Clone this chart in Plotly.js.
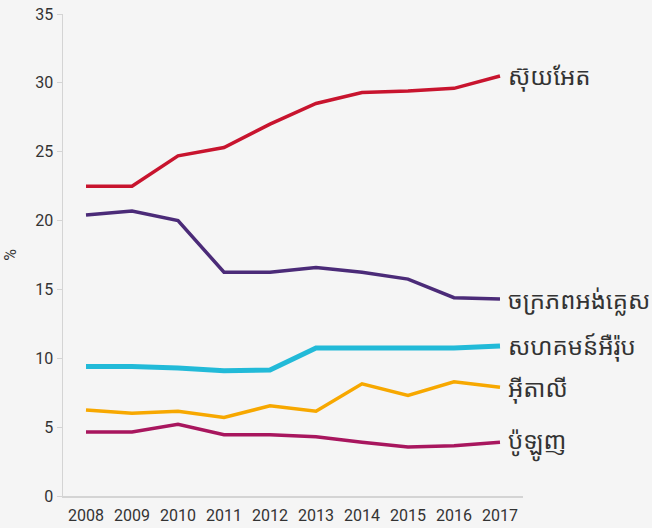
<!DOCTYPE html>
<html>
<head>
<meta charset="utf-8">
<script src="https://cdn.plot.ly/plotly-3.0.1.min.js"></script>
<style>
html,body{margin:0;padding:0;background:#f5f5f5;}
#chart{width:652px;height:528px;}
</style>
</head>
<body>
<div id="chart"></div>
<script>
const years = ['2008','2009','2010','2011','2012','2013','2014','2015','2016','2017'];
const seriesNames = ['ស៊ុយអែត','ចក្រភពអង់គ្លេស','សហគមន៍អឺរ៉ុប','អ៊ីតាលី','ប៉ូឡូញ'];
const sweden = [22.5, 22.5, 24.7, 25.3, 27.0, 28.5, 29.3, 29.4, 29.6, 30.5];
const uk     = [20.4, 20.7, 20.0, 16.25, 16.25, 16.6, 16.25, 15.75, 14.4, 14.3];
const eu     = [9.4, 9.4, 9.3, 9.1, 9.15, 10.75, 10.75, 10.75, 10.75, 10.9];
const italy  = [6.25, 6.0, 6.15, 5.7, 6.55, 6.15, 8.15, 7.3, 8.3, 7.9];
const poland = [4.65, 4.65, 5.2, 4.45, 4.45, 4.3, 3.9, 3.55, 3.65, 3.9];
const yTicks = [0, 5, 10, 15, 20, 25, 30, 35];

const values = [sweden, uk, eu, italy, poland];
const colors = ['#c8142e', '#4b2b78', '#22bad8', '#f7a800', '#a8165e'];
const widths = [3.5, 3.5, 5, 3.5, 3.5];

const traces = values.map((v, i) => ({
  type: 'scatter', mode: 'lines', x: years, y: v, name: seriesNames[i],
  line: {color: colors[i], width: widths[i]}, hoverinfo: 'skip'
}));

const annotations = values.map((v, i) => ({
  x: years.length - 1, y: v[v.length - 1], xref: 'x', yref: 'y',
  text: seriesNames[i], showarrow: false, xanchor: 'left', yanchor: 'middle',
  xshift: 6, font: {family: 'Noto Sans Khmer, Khmer OS, Noto Sans, sans-serif', size: 24, color: '#333333'}
}));

const layout = {
  width: 652, height: 528,
  paper_bgcolor: '#f5f5f5', plot_bgcolor: '#f5f5f5',
  margin: {l: 63, r: 129, t: 14, b: 32},
  showlegend: false,
  font: {family: 'Roboto, sans-serif', size: 16, color: '#333333'},
  xaxis: {
    type: 'category', range: [-0.5, 9.5], showgrid: false, zeroline: false,
    showline: true, linecolor: '#d4d4d4', linewidth: 1.5, ticks: '',
    tickfont: {size: 16, color: '#333'}, ticklabelstandoff: 4, fixedrange: true
  },
  yaxis: {
    range: [0, 35], tickvals: yTicks, showgrid: false, zeroline: false,
    showline: true, linecolor: '#d4d4d4', linewidth: 1.5, ticks: 'outside',
    ticklen: 5, tickcolor: '#d4d4d4', tickfont: {size: 16, color: '#333'},
    title: {text: '%', font: {size: 16, color: '#333'}, standoff: 14}, fixedrange: true
  },
  annotations: annotations
};

Plotly.newPlot('chart', traces, layout, {displayModeBar: false, staticPlot: true});
</script>
</body>
</html>
